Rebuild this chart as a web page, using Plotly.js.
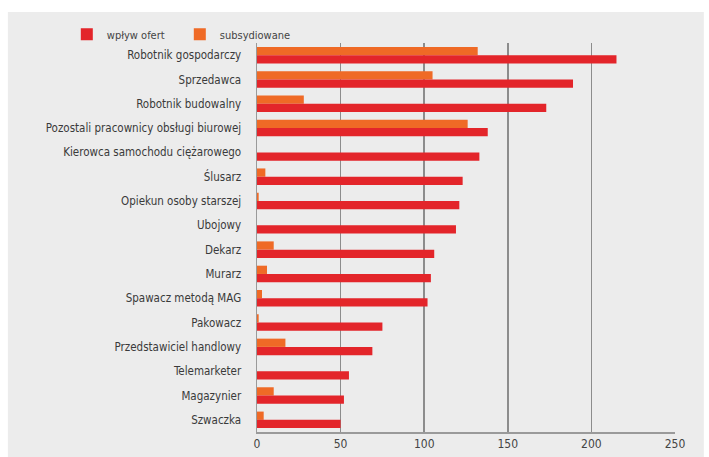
<!DOCTYPE html>
<html>
<head>
<meta charset="utf-8">
<script src="https://cdn.plot.ly/plotly-3.0.1.min.js"></script>
<style>html,body{margin:0;padding:0;background:#fff;}#chart{width:709px;height:457px;}</style>
</head>
<body>
<div id="chart"></div>
<script>
const categories = [
  "Robotnik gospodarczy",
  "Sprzedawca",
  "Robotnik budowalny",
  "Pozostali pracownicy obsługi biurowej",
  "Kierowca samochodu ciężarowego",
  "Ślusarz",
  "Opiekun osoby starszej",
  "Ubojowy",
  "Dekarz",
  "Murarz",
  "Spawacz metodą MAG",
  "Pakowacz",
  "Przedstawiciel handlowy",
  "Telemarketer",
  "Magazynier",
  "Szwaczka"
];
const wplywOfert = [215, 189, 173, 138, 133, 123, 121, 119, 106, 104, 102, 75, 69, 55, 52, 50];
const subsydiowane = [132, 105, 28, 126, 0, 5, 1, 0, 10, 6, 3, 1, 17, 0, 10, 4];
const xTicks = [0, 50, 100, 150, 200, 250];

const font = "'DejaVu Sans Condensed', 'Liberation Sans Narrow', 'Open Sans', sans-serif";

const traces = [
  {
    type: "bar", orientation: "h", name: "subsydiowane",
    y: categories, x: subsydiowane,
    marker: {color: "#ef6a26"}
  },
  {
    type: "bar", orientation: "h", name: "wpływ ofert",
    y: categories, x: wplywOfert,
    marker: {color: "#e3252a"}
  }
];

const layout = {
  width: 709, height: 457,
  margin: {l: 257, r: 34, t: 43, b: 25, pad: 0},
  paper_bgcolor: "#ffffff",
  plot_bgcolor: "rgba(0,0,0,0)",
  barmode: "group",
  bargap: 0.32,
  bargroupgap: 0,
  font: {family: font, size: 11.5, color: "#333"},
  showlegend: true,
  legend: {
    orientation: "h", traceorder: "reversed",
    x: -0.455, y: 0.985, xanchor: "left", yanchor: "bottom",
    font: {size: 11, color: "#444"},
    bgcolor: "rgba(0,0,0,0)",
    entrywidth: 68, entrywidthmode: "pixels",
    itemwidth: 30, tracegroupgap: 0
  },
  xaxis: {
    range: [0, 250],
    tickvals: xTicks,
    ticktext: xTicks.map(String),
    showgrid: true, gridcolor: "#8c8c8c", gridwidth: 1.5,
    zeroline: false,
    showline: true, linecolor: "#9a9a9a", linewidth: 2,
    ticks: "", tickfont: {size: 12, color: "#444"},
    fixedrange: true
  },
  yaxis: {
    type: "category",
    autorange: "reversed",
    showgrid: false, zeroline: false,
    showline: true, linecolor: "#9a9a9a", linewidth: 1.5,
    ticks: "", ticklabelstandoff: 12,
    tickfont: {size: 11.5, color: "#3a3a3a"},
    fixedrange: true
  },
  shapes: [{
    type: "rect", xref: "paper", yref: "paper", layer: "below",
    x0: -0.596, x1: 1.069, y0: -0.07, y1: 1.08,
    fillcolor: "#ececec", line: {width: 0}
  }]
};

Plotly.newPlot("chart", traces, layout, {displayModeBar: false, staticPlot: true});
</script>
</body>
</html>
